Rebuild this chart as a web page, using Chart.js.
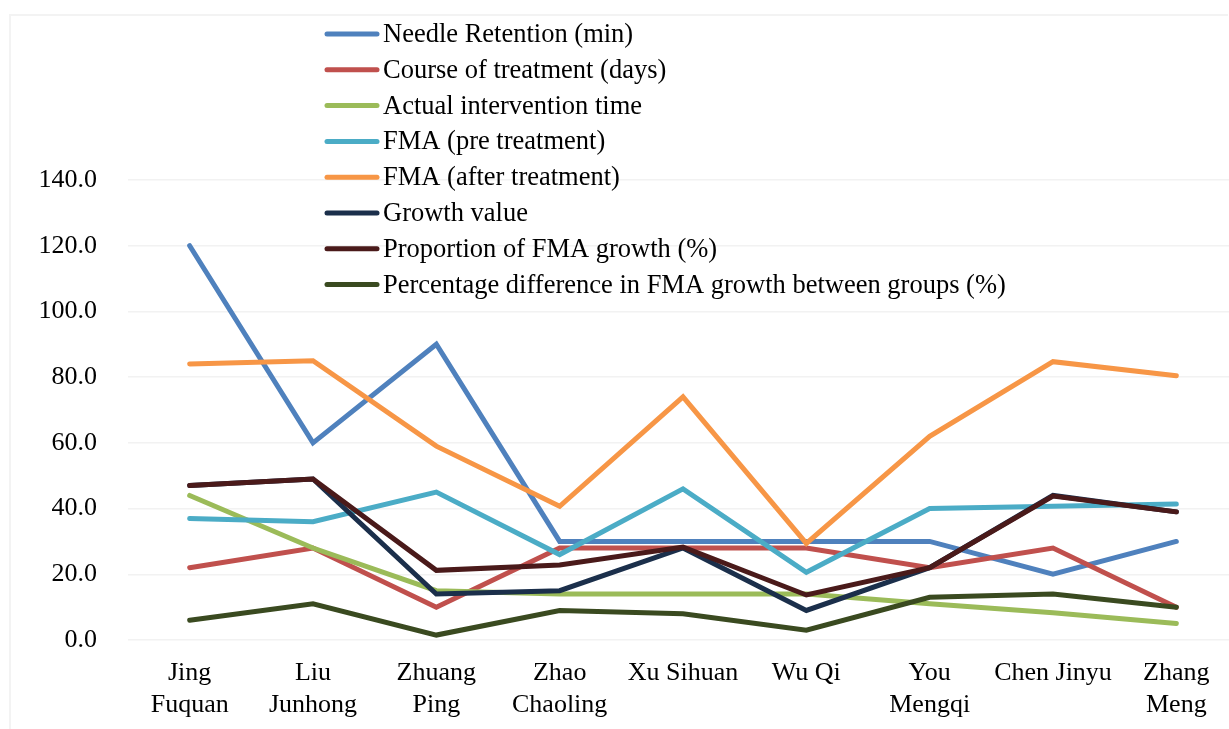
<!DOCTYPE html>
<html>
<head>
<meta charset="utf-8">
<script src="https://cdn.jsdelivr.net/npm/chart.js@4/dist/chart.umd.min.js"></script>
<style>
  html, body { margin: 0; padding: 0; background: #fff; overflow: hidden; }
  #wrap { position: absolute; left: 0; top: 0; width: 1240px; height: 729px; }
</style>
</head>
<body>
<div id="wrap"><canvas id="myChart" width="1240" height="729"></canvas></div>
<script>
var categories = [['Jing', 'Fuquan'], ['Liu', 'Junhong'], ['Zhuang', 'Ping'], ['Zhao', 'Chaoling'],
    'Xu Sihuan', 'Wu Qi', ['You', 'Mengqi'], 'Chen Jinyu', ['Zhang', 'Meng']];
var yTicks = [0, 20, 40, 60, 80, 100, 120, 140];

var needleRetention = [120, 60, 90, 30, 30, 30, 30, 20, 30];
var courseDays = [22, 28, 10, 28, 28, 28, 22, 28, 10];
var interventionTime = [44, 28, 15, 14, 14, 14, 11, 8.3, 5];
var fmaPre = [37, 36, 45, 26, 46, 20.6, 40, 40.7, 41.4];
var fmaAfter = [84, 85, 59, 40.7, 74, 29.4, 62, 84.7, 80.4];
var growthValue = [47, 49, 14, 15, 28, 9, 22, 44, 39];
var growthProportion = [47, 49, 21.2, 22.8, 28.3, 13.7, 22, 43.8, 39];
var groupDifference = [6, 11, 1.5, 9, 8, 3, 13, 14, 10];

var seriesNames = ['Needle Retention (min)', 'Course of treatment (days)', 'Actual intervention time',
    'FMA (pre treatment)', 'FMA (after treatment)', 'Growth value', 'Proportion of FMA growth (%)',
    'Percentage difference in FMA growth between groups (%)'];
var seriesData = [needleRetention, courseDays, interventionTime, fmaPre, fmaAfter,
    growthValue, growthProportion, groupDifference];
var colors = ['#4F81BD', '#C0504D', '#9BBB59', '#4BACC6', '#F79646', '#1B2F4B', '#4A1A1A', '#3A4A20'];

var FONT = '"Liberation Serif", "Times New Roman", serif';

// legend drawn over the plot, like the original
var overlayLegend = {
    id: 'overlayLegend',
    afterDraw: function (chart) {
        var c = chart.ctx;
        c.save();
        // faint outer frame
        c.strokeStyle = '#F3F3F3';
        c.lineWidth = 2;
        c.beginPath();
        c.moveTo(10, 729);
        c.lineTo(10, 15);
        c.lineTo(1228, 15);
        c.stroke();

        c.font = '26.5px ' + FONT;
        c.textBaseline = 'middle';
        c.textAlign = 'left';
        chart.data.datasets.forEach(function (ds, i) {
            var y = 34 + i * 35.8;
            c.strokeStyle = ds.borderColor;
            c.lineWidth = 5;
            c.lineCap = 'round';
            c.beginPath();
            c.moveTo(327, y);
            c.lineTo(377, y);
            c.stroke();
            c.fillStyle = '#000';
            c.fillText(ds.label, 383, y + 1);
        });
        c.restore();
    }
};

var ctx = document.getElementById('myChart').getContext('2d');
var chart = new Chart(ctx, {
    type: 'line',
    data: {
        labels: categories,
        datasets: seriesData.map(function (d, i) {
            return {
                label: seriesNames[i],
                data: d,
                borderColor: colors[i],
                backgroundColor: colors[i],
                borderWidth: 5,
                pointRadius: 0,
                tension: 0,
                fill: false,
                borderCapStyle: 'round',
                order: 8 - i
            };
        })
    },
    options: {
        responsive: false,
        animation: false,
        layout: { padding: { top: 180, right: 2, bottom: 0, left: 0 } },
        scales: {
            x: {
                offset: true,
                grid: { display: false },
                border: { display: false },
                ticks: {
                    color: '#000',
                    font: { family: FONT, size: 26, lineHeight: 1.23 },
                    padding: 9,
                    maxRotation: 0,
                    autoSkip: false
                },
                afterFit: function (scale) { scale.height = 89; }
            },
            y: {
                min: 0,
                max: 140,
                afterBuildTicks: function (scale) {
                    scale.ticks = yTicks.map(function (v) { return { value: v }; });
                },
                grid: { color: '#F2F2F2', lineWidth: 1.5, drawTicks: false },
                border: { display: false },
                ticks: {
                    color: '#000',
                    font: { family: FONT, size: 26 },
                    padding: 31,
                    callback: function (v) { return Number(v).toFixed(1); }
                },
                afterFit: function (scale) { scale.width = 128; }
            }
        },
        plugins: {
            legend: { display: false },
            tooltip: { enabled: false }
        }
    },
    plugins: [overlayLegend]
});
</script>
</body>
</html>
